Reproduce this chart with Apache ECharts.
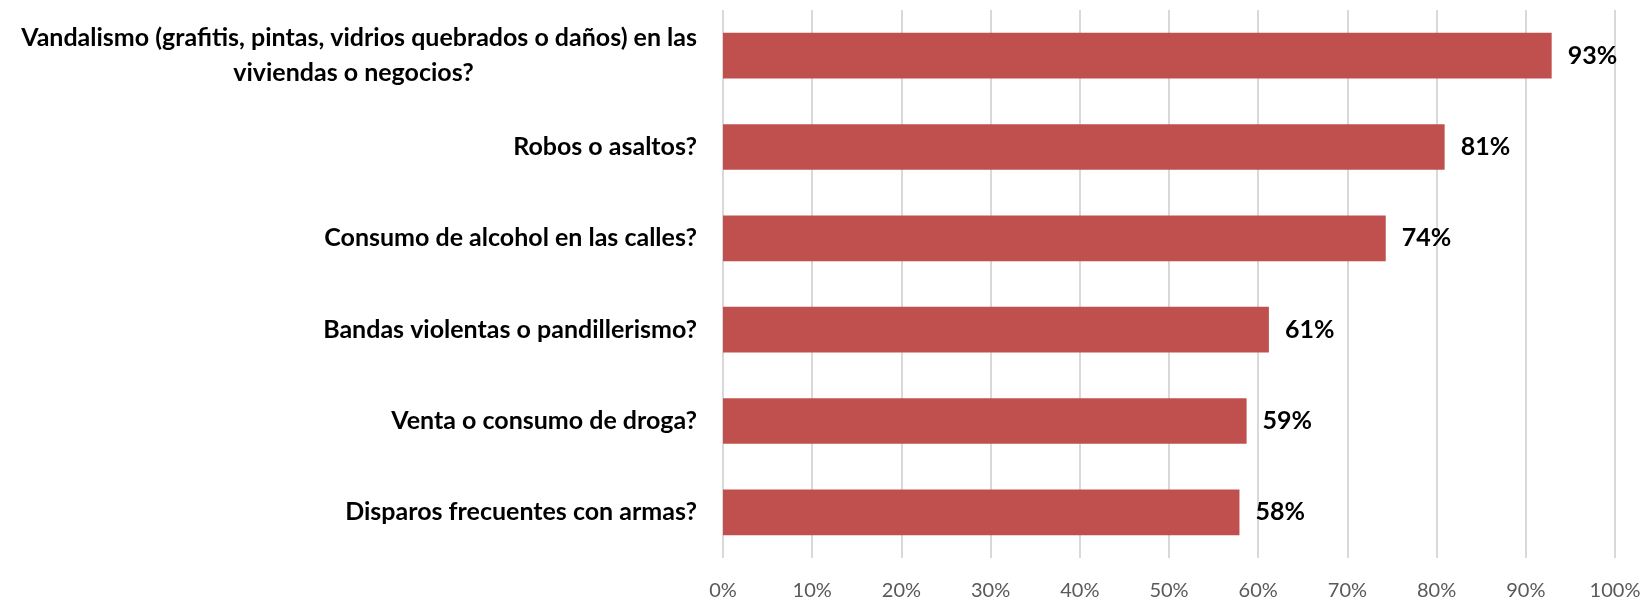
<!DOCTYPE html>
<html>
<head>
<meta charset="utf-8">
<script src="https://cdn.jsdelivr.net/npm/echarts@6/dist/echarts.min.js"></script>
<style>
  html, body { margin: 0; padding: 0; background: #fff; }
  #chart { width: 1645px; height: 601px; }
</style>
</head>
<body>
<div id="chart"></div>
<script>
const categories = [
  "Vandalismo (grafitis, pintas, vidrios quebrados o daños) en las\nviviendas o negocios?",
  "Robos o asaltos?",
  "Consumo de alcohol en las calles?",
  "Bandas violentas o pandillerismo?",
  "Venta o consumo de droga?",
  "Disparos frecuentes con armas?"
];
const values = [0.929, 0.809, 0.743, 0.612, 0.587, 0.579];
const tickLabels = ["0%", "10%", "20%", "30%", "40%", "50%", "60%", "70%", "80%", "90%", "100%"];

const FONT = "Lato, 'Open Sans', sans-serif";
const chart = echarts.init(document.getElementById("chart"));

const option = {
  animation: false,
  grid: {
    left: 723,
    right: 30,
    top: 10,
    bottom: 41,
    containLabel: false,
  },
  xAxis: {
    type: "value",
    min: 0,
    max: 1,
    interval: 0.1,
    axisLine: { show: false },
    axisTick: { show: false },
    splitLine: { show: true, lineStyle: { color: "#d9d9d9", width: 2 } },
    axisLabel: {
      color: "#595959",
      fontFamily: FONT,
      fontSize: 20,
      margin: 23,
      formatter: (v) => tickLabels[Math.round(v * 10)],
    },
  },
  yAxis: {
    type: "category",
    inverse: true,
    data: categories,
    axisLine: { show: false },
    axisTick: { show: false },
    axisLabel: {
      color: "#000",
      fontFamily: FONT,
      fontWeight: "bold",
      fontSize: 25,
      lineHeight: 35,
      margin: 26,
      formatter: (v) => {
        if (v.indexOf("\n") < 0) return v;
        const parts = v.split("\n");
        return "{a|" + parts[0] + "}\n{b|" + parts[1] + "}";
      },
      rich: {
        a: { width: 687, align: "right", fontFamily: FONT, fontWeight: "bold", fontSize: 25, lineHeight: 35, color: "#000" },
        b: { width: 687, align: "center", fontFamily: FONT, fontWeight: "bold", fontSize: 25, lineHeight: 35, color: "#000" },
      },
    },
  },
  series: [
    {
      type: "bar",
      data: values,
      barCategoryGap: "50%",
      itemStyle: { color: "#c0504d" },
      label: {
        show: true,
        position: "right",
        distance: 16,
        color: "#000",
        fontFamily: FONT,
        fontWeight: "bold",
        fontSize: 25,
        formatter: (p) => Math.round(p.value * 100) + "%",
      },
    },
  ],
};

chart.setOption(option);
</script>
</body>
</html>
